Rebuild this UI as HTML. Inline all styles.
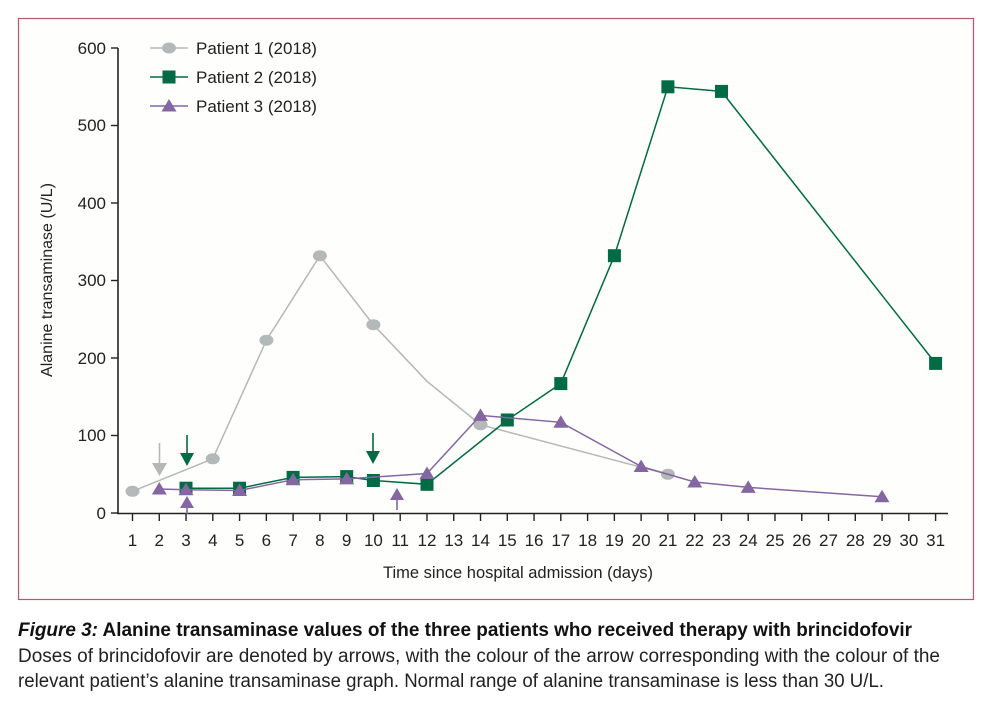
<!DOCTYPE html>
<html><head><meta charset="utf-8"><style>
html,body{margin:0;padding:0;background:#fff;}
svg{display:block;font-family:"Liberation Sans",sans-serif;}
</style></head><body>
<svg width="996" height="722" viewBox="0 0 996 722" xmlns="http://www.w3.org/2000/svg">
<rect x="18.5" y="18.5" width="955" height="581" fill="#fefefd" stroke="#b8566c" stroke-width="1.2"/>
<!-- axes -->
<g stroke="#222" stroke-width="1.6" fill="none">
<line x1="118" y1="48" x2="118" y2="514"/>
<line x1="117" y1="513.5" x2="948" y2="513.5"/>
</g>
<g stroke="#222" stroke-width="1.4">
<line x1="111" y1="48" x2="118" y2="48"/><line x1="111" y1="125.5" x2="118" y2="125.5"/>
<line x1="111" y1="203" x2="118" y2="203"/><line x1="111" y1="280.5" x2="118" y2="280.5"/>
<line x1="111" y1="358" x2="118" y2="358"/><line x1="111" y1="435.5" x2="118" y2="435.5"/>
<line x1="111" y1="513" x2="118" y2="513"/>
</g>
<g font-size="17" fill="#222" text-anchor="end">
<text x="106" y="54">600</text><text x="106" y="131">500</text><text x="106" y="209">400</text>
<text x="106" y="286">300</text><text x="106" y="364">200</text><text x="106" y="441">100</text>
<text x="106" y="519">0</text>
</g>
<text transform="translate(52,280) rotate(-90)" font-size="16" fill="#222" text-anchor="middle">Alanine transaminase (U/L)</text>
<g id="xt" stroke="#222" stroke-width="1.4"></g>
<g id="xl" font-size="17" fill="#222" text-anchor="middle"></g>
<text x="518" y="578" font-size="16.5" fill="#222" text-anchor="middle">Time since hospital admission (days)</text>
<!-- series -->
<polyline fill="none" stroke="#b3b8b8" stroke-width="1.5" points="132.5,491.3 212.8,458.8 266.4,340.2 319.9,255.7 373.4,324.7 427,381.3 480.5,424.7 667.9,474.3"/>
<g fill="#b3b8b8">
<ellipse cx="132.5" cy="491.3" rx="7" ry="5.5"/><ellipse cx="212.8" cy="458.8" rx="7" ry="5.5"/>
<ellipse cx="266.4" cy="340.2" rx="7" ry="5.5"/><ellipse cx="319.9" cy="255.7" rx="7" ry="5.5"/>
<ellipse cx="373.4" cy="324.7" rx="7" ry="5.5"/><ellipse cx="480.5" cy="424.7" rx="7" ry="5.5"/>
<ellipse cx="667.9" cy="474.3" rx="7" ry="5.5"/>
</g>
<polyline fill="none" stroke="#006b45" stroke-width="1.5" points="186,488.2 239.6,488.2 293.1,477.4 346.7,476.6 373.4,480.5 427,484.3 507.3,420 560.8,383.6 614.4,255.7 667.9,86.8 721.5,91.4 935.6,363.4"/>
<g fill="#006b45" id="sq"></g>
<polyline fill="none" stroke="#8466a3" stroke-width="1.5" points="159.3,489 186,489.8 239.6,490.5 293.1,479.7 346.7,478.9 427,473.5 480.5,415.4 560.8,422.3 641.1,466.5 694.7,482 748.2,487.4 882,496.7"/>
<g fill="#8466a3" id="tr"></g>
<!-- arrows -->
<g stroke-width="1.6">
<line x1="159.5" y1="443" x2="159.5" y2="466" stroke="#b3b8b8"/><polygon points="152,463 167,463 159.5,476" fill="#b3b8b8"/>
<line x1="187" y1="435" x2="187" y2="456" stroke="#006b45"/><polygon points="180,453 194,453 187,466" fill="#006b45"/>
<line x1="373" y1="433" x2="373" y2="454" stroke="#006b45"/><polygon points="366,451 380,451 373,464" fill="#006b45"/>
<line x1="187" y1="505" x2="187" y2="514" stroke="#8466a3"/><polygon points="180,508 194,508 187,496" fill="#8466a3"/>
<line x1="397" y1="498" x2="397" y2="510" stroke="#8466a3"/><polygon points="390,500 404,500 397,488" fill="#8466a3"/>
</g>
<!-- legend -->
<line x1="150" y1="48" x2="188" y2="48" stroke="#b3b8b8" stroke-width="1.5"/><ellipse cx="169" cy="48" rx="7" ry="5.5" fill="#b3b8b8"/>
<line x1="150" y1="77" x2="188" y2="77" stroke="#006b45" stroke-width="1.5"/><rect x="162.5" y="70.5" width="13" height="13" fill="#006b45"/>
<line x1="150" y1="106" x2="188" y2="106" stroke="#8466a3" stroke-width="1.5"/><polygon points="161.5,111.5 176.5,111.5 169,99" fill="#8466a3"/>
<g font-size="17" fill="#222">
<text x="196" y="54">Patient 1 (2018)</text><text x="196" y="83">Patient 2 (2018)</text><text x="196" y="112">Patient 3 (2018)</text>
</g>
<!-- caption -->
<text x="18" y="636" font-size="19" fill="#111" font-weight="bold" textLength="894" lengthAdjust="spacingAndGlyphs"><tspan font-style="italic">Figure 3:</tspan> Alanine transaminase values of the three patients who received therapy with brincidofovir</text>
<text x="18" y="662" font-size="19" fill="#222" textLength="922" lengthAdjust="spacingAndGlyphs">Doses of brincidofovir are denoted by arrows, with the colour of the arrow corresponding with the colour of the</text>
<text x="18" y="687" font-size="19" fill="#222" textLength="866" lengthAdjust="spacingAndGlyphs">relevant patient’s alanine transaminase graph. Normal range of alanine transaminase is less than 30 U/L.</text>
<script>
var ns="http://www.w3.org/2000/svg";
function X(d){return 132.5+(d-1)*26.77;}
var xt=document.getElementById('xt'),xl=document.getElementById('xl');
for(var d=1;d<=31;d++){var l=document.createElementNS(ns,'line');l.setAttribute('x1',X(d));l.setAttribute('x2',X(d));l.setAttribute('y1',513);l.setAttribute('y2',521);xt.appendChild(l);
var t=document.createElementNS(ns,'text');t.setAttribute('x',X(d));t.setAttribute('y',546);t.textContent=d;xl.appendChild(t);}
var sq=[[186,488.2],[239.6,488.2],[293.1,477.4],[346.7,476.6],[373.4,480.5],[427,484.3],[507.3,420],[560.8,383.6],[614.4,255.7],[667.9,86.8],[721.5,91.4],[935.6,363.4]];
var g=document.getElementById('sq');sq.forEach(function(p){var r=document.createElementNS(ns,'rect');r.setAttribute('x',p[0]-6.5);r.setAttribute('y',p[1]-6.5);r.setAttribute('width',13);r.setAttribute('height',13);g.appendChild(r);});
var tr=[[159.3,489],[186,489.8],[239.6,490.5],[293.1,479.7],[346.7,478.9],[427,473.5],[480.5,415.4],[560.8,422.3],[641.1,466.5],[694.7,482],[748.2,487.4],[882,496.7]];
var h=document.getElementById('tr');tr.forEach(function(p){var q=document.createElementNS(ns,'polygon');q.setAttribute('points',(p[0]-7.5)+','+(p[1]+5.5)+' '+(p[0]+7.5)+','+(p[1]+5.5)+' '+p[0]+','+(p[1]-7));h.appendChild(q);});
</script>
</svg>
</body></html>
